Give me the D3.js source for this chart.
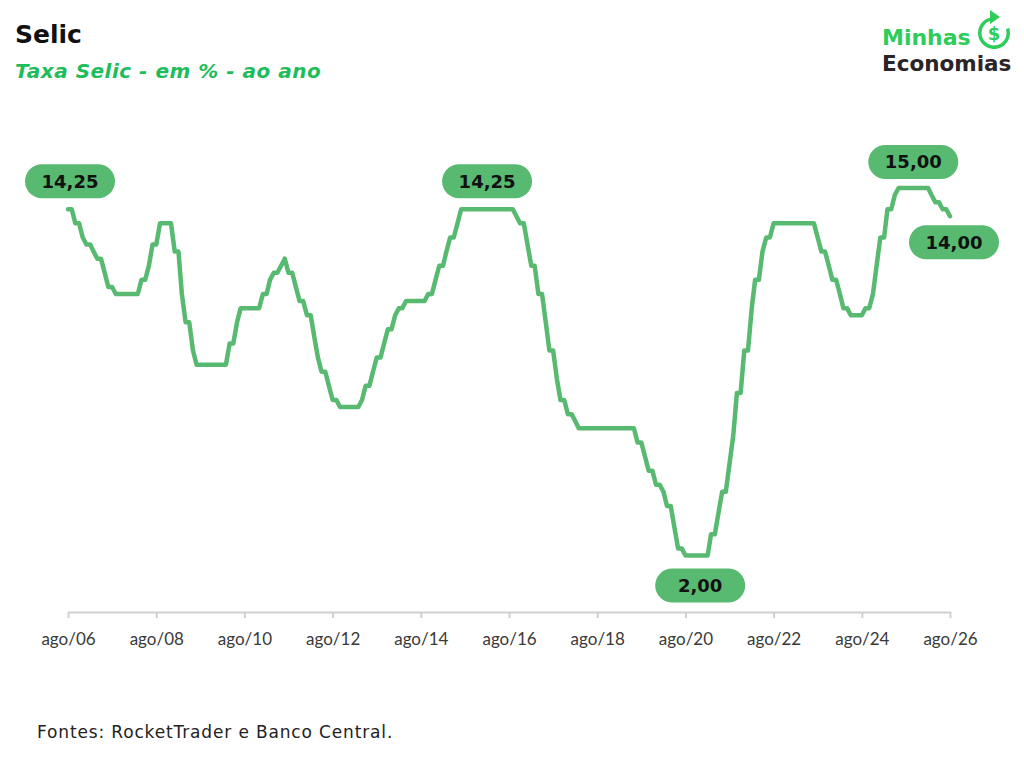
<!DOCTYPE html>
<html>
<head>
<meta charset="utf-8">
<script src="https://cdn.jsdelivr.net/npm/d3@7"></script>
<style>
  body { margin: 0; background: #fff; }
  svg { display: block; }
</style>
</head>
<body>
<div id="chart"></div>
<script>
// Selic monthly, from ago/2006 to ago/2026
const startMonth = '2006-08';
const selic = [
  // 2006 ago-dez
  14.25, 14.25, 13.75, 13.75, 13.25,
  // 2007
  13.00, 13.00, 12.75, 12.50, 12.50, 12.00, 11.50, 11.50, 11.25, 11.25, 11.25, 11.25,
  // 2008
  11.25, 11.25, 11.25, 11.75, 11.75, 12.25, 13.00, 13.00, 13.75, 13.75, 13.75, 13.75,
  // 2009
  12.75, 12.75, 11.25, 10.25, 10.25, 9.25, 8.75, 8.75, 8.75, 8.75, 8.75, 8.75,
  // 2010
  8.75, 8.75, 8.75, 9.50, 9.50, 10.25, 10.75, 10.75, 10.75, 10.75, 10.75, 10.75,
  // 2011
  11.25, 11.25, 11.75, 12.00, 12.00, 12.25, 12.50, 12.00, 12.00, 11.50, 11.00, 11.00,
  // 2012
  10.50, 10.50, 9.75, 9.00, 8.50, 8.50, 8.00, 7.50, 7.50, 7.25, 7.25, 7.25,
  // 2013
  7.25, 7.25, 7.25, 7.50, 8.00, 8.00, 8.50, 9.00, 9.00, 9.50, 10.00, 10.00,
  // 2014
  10.50, 10.75, 10.75, 11.00, 11.00, 11.00, 11.00, 11.00, 11.00, 11.25, 11.25, 11.75,
  // 2015
  12.25, 12.25, 12.75, 13.25, 13.25, 13.75, 14.25, 14.25, 14.25, 14.25, 14.25, 14.25,
  // 2016
  14.25, 14.25, 14.25, 14.25, 14.25, 14.25, 14.25, 14.25, 14.25, 14.00, 13.75, 13.75,
  // 2017
  13.00, 12.25, 12.25, 11.25, 11.25, 10.25, 9.25, 9.25, 8.25, 7.50, 7.50, 7.00,
  // 2018
  7.00, 6.75, 6.50, 6.50, 6.50, 6.50, 6.50, 6.50, 6.50, 6.50, 6.50, 6.50,
  // 2019
  6.50, 6.50, 6.50, 6.50, 6.50, 6.50, 6.00, 6.00, 5.50, 5.00, 5.00, 4.50,
  // 2020
  4.50, 4.25, 3.75, 3.75, 3.00, 2.25, 2.25, 2.00, 2.00, 2.00, 2.00, 2.00,
  // 2021
  2.00, 2.00, 2.75, 2.75, 3.50, 4.25, 4.25, 5.25, 6.25, 7.75, 7.75, 9.25,
  // 2022
  9.25, 10.75, 11.75, 11.75, 12.75, 13.25, 13.25, 13.75, 13.75, 13.75, 13.75, 13.75,
  // 2023
  13.75, 13.75, 13.75, 13.75, 13.75, 13.75, 13.75, 13.25, 12.75, 12.75, 12.25, 11.75,
  // 2024
  11.75, 11.25, 10.75, 10.75, 10.50, 10.50, 10.50, 10.50, 10.75, 10.75, 11.25, 12.25,
  // 2025
  13.25, 13.25, 14.25, 14.25, 14.75, 15.00, 15.00, 15.00, 15.00, 15.00, 15.00, 15.00,
  // 2026 jan-ago
  15.00, 15.00, 14.75, 14.50, 14.50, 14.25, 14.25, 14.00
];

const tickYears = [2006, 2008, 2010, 2012, 2014, 2016, 2018, 2020, 2022, 2024, 2026];

// highlighted values: month, text
const callouts = [
  { month: '2006-08', text: '14,25' },
  { month: '2016-02', text: '14,25' },
  { month: '2020-12', text: '2,00' },
  { month: '2025-10', text: '15,00' },
  { month: '2026-08', text: '14,00' }
];
const calloutOffsets = [[2, -28], [0, -28], [0, 30], [0, -26], [4, 26]];

const W = 1024, H = 768;
const green = '#58b970';
const logoGreen = '#2ecc5a';
const parseMonth = d3.timeParse('%Y-%m');
const fmt = d3.timeFormatLocale({
  dateTime: '%d/%m/%Y', date: '%d/%m/%Y', time: '%H:%M:%S',
  periods: ['AM', 'PM'],
  days: ['domingo', 'segunda', 'terça', 'quarta', 'quinta', 'sexta', 'sábado'],
  shortDays: ['dom', 'seg', 'ter', 'qua', 'qui', 'sex', 'sáb'],
  months: ['janeiro', 'fevereiro', 'março', 'abril', 'maio', 'junho', 'julho',
    'agosto', 'setembro', 'outubro', 'novembro', 'dezembro'],
  shortMonths: ['jan', 'fev', 'mar', 'abr', 'mai', 'jun', 'jul', 'ago', 'set', 'out', 'nov', 'dez']
}).format('%b/%y');

const t0 = parseMonth(startMonth);
const data = selic.map((v, i) => ({ date: d3.timeMonth.offset(t0, i), value: v }));

const x = d3.scaleTime()
  .domain([t0, data[data.length - 1].date])
  .range([68, 950]);
const y = d3.scaleLinear().domain([0, 15]).range([612, 188]);

const svg = d3.select('#chart')
  .append('svg')
  .attr('width', W)
  .attr('height', H);

// titles
svg.append('text')
  .attr('x', 15).attr('y', 43)
  .style('font', '700 25px "DejaVu Sans", sans-serif')
  .attr('fill', '#111')
  .text('Selic');

svg.append('text')
  .attr('x', 15).attr('y', 78)
  .style('font', 'italic 700 20px "DejaVu Sans", sans-serif')
  .attr('letter-spacing', 0.5)
  .attr('fill', '#1ebd5c')
  .text('Taxa Selic - em % - ao ano');

// logo
const logo = svg.append('g');
logo.append('text')
  .attr('x', 882).attr('y', 45)
  .style('font', '700 22px "DejaVu Sans", sans-serif')
  .attr('fill', logoGreen)
  .text('Minhas');
logo.append('text')
  .attr('x', 882).attr('y', 71)
  .style('font', '700 21.5px "DejaVu Sans", sans-serif')
  .attr('fill', '#2b2426')
  .text('Economias');
const arc = d3.arc()
  .innerRadius(12.5).outerRadius(16)
  .startAngle(Math.PI * 0.4).endAngle(Math.PI * 1.96);
logo.append('path')
  .attr('transform', 'translate(994,33)')
  .attr('d', arc())
  .attr('fill', logoGreen);
logo.append('path')
  .attr('d', 'M1000,17 L990,10 L990,24 Z')
  .attr('fill', logoGreen);
logo.append('text')
  .attr('x', 994).attr('y', 40)
  .attr('text-anchor', 'middle')
  .style('font', '700 18px "DejaVu Sans", sans-serif')
  .attr('fill', logoGreen)
  .text('$');

// axis
const xAxis = d3.axisBottom(x)
  .tickValues(tickYears.map((yr) => new Date(yr, 7, 1)))
  .tickFormat(fmt)
  .tickSize(6)
  .tickSizeOuter(0);

const gx = svg.append('g')
  .attr('transform', 'translate(0,612)')
  .call(xAxis);
gx.select('.domain').attr('stroke', '#d0d0d0').attr('stroke-width', 2);
gx.selectAll('.tick line').attr('stroke', '#d0d0d0').attr('stroke-width', 2);
gx.selectAll('.tick text')
  .attr('y', 21)
  .attr('fill', '#3a3a3a')
  .style('font', '17px Lato, sans-serif');

// line
const line = d3.line()
  .x((d) => x(d.date))
  .y((d) => y(d.value));

svg.append('path')
  .datum(data)
  .attr('d', line)
  .attr('fill', 'none')
  .attr('stroke', green)
  .attr('stroke-width', 4.5)
  .attr('stroke-linejoin', 'round')
  .attr('stroke-linecap', 'round');

// callouts
const byMonth = new Map(data.map((d) => [d3.timeFormat('%Y-%m')(d.date), d]));
const pills = svg.selectAll('.pill')
  .data(callouts)
  .enter()
  .append('g')
  .attr('class', 'pill')
  .attr('transform', (d, i) => {
    const p = byMonth.get(d.month);
    return `translate(${x(p.date) + calloutOffsets[i][0]},${y(p.value) + calloutOffsets[i][1]})`;
  });

pills.append('rect')
  .attr('x', -45).attr('y', -17)
  .attr('width', 90).attr('height', 34)
  .attr('rx', 17)
  .attr('fill', green);

pills.append('text')
  .attr('text-anchor', 'middle')
  .attr('dy', '0.36em')
  .style('font', '700 18px "DejaVu Sans", sans-serif')
  .attr('fill', '#111')
  .text((d) => d.text);

// source
svg.append('text')
  .attr('x', 37).attr('y', 738)
  .style('font', '17px "DejaVu Sans", sans-serif')
  .attr('letter-spacing', 0.85)
  .attr('fill', '#222')
  .text('Fontes: RocketTrader e Banco Central.');
</script>
</body>
</html>
